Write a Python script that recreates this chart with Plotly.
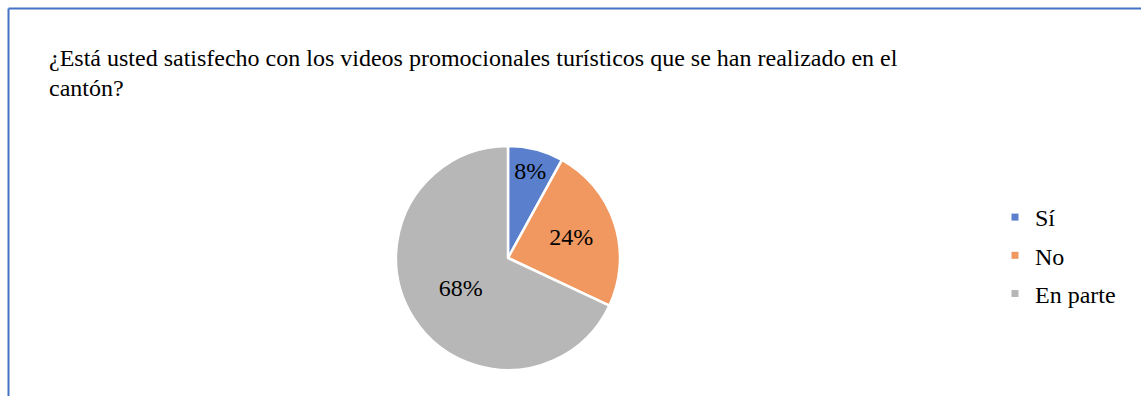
import plotly.graph_objects as go

W, H = 1141, 396

labels = ["Sí", "No", "En parte"]
values = [8, 24, 68]
colors = ["#5a80cd", "#f09860", "#b7b7b7"]
title_lines = [
    "¿Está usted satisfecho con los videos promocionales turísticos que se han realizado en el",
    "cantón?",
]

FONT = "'Times New Roman', 'Liberation Serif', serif"

fig = go.Figure()

fig.add_trace(go.Pie(
    labels=labels,
    values=values,
    sort=False,
    direction="clockwise",
    rotation=0,
    marker=dict(colors=colors, line=dict(color="white", width=2.5)),
    texttemplate="%{percent:.0%}",
    textposition="inside",
    insidetextorientation="horizontal",
    textfont=dict(family=FONT, size=24, color="#000000"),
    domain=dict(x=[396 / W, 620 / W], y=[1 - 370 / H, 1 - 146 / H]),
    showlegend=False,
    hoverinfo="label+percent",
))

# legend entries (dummy traces so spacing can be controlled)
for i, (lab, col) in enumerate(zip(labels, colors)):
    fig.add_trace(go.Scatter(
        x=[None], y=[None], mode="markers", name=lab,
        marker=dict(symbol="square", size=7, color=col),
        legendgroup=f"g{i}", showlegend=True,
    ))

for i, line in enumerate(title_lines):
    fig.add_annotation(
        text=line, xref="paper", yref="paper",
        x=47 / W, y=1 - (58 + 30 * i) / H,
        xanchor="left", yanchor="middle", showarrow=False,
        font=dict(family=FONT, size=24, color="#000000"),
    )

# chart area border (top and left visible)
fig.add_shape(type="line", xref="paper", yref="paper",
              x0=8.5 / W, y0=0, x1=8.5 / W, y1=1 - 8.5 / H,
              line=dict(color="#4472c4", width=2))
fig.add_shape(type="line", xref="paper", yref="paper",
              x0=8.5 / W, y0=1 - 8.5 / H, x1=1, y1=1 - 8.5 / H,
              line=dict(color="#4472c4", width=2))

fig.update_layout(
    width=W, height=H,
    margin=dict(l=0, r=0, t=0, b=0),
    paper_bgcolor="white", plot_bgcolor="white",
    font=dict(family=FONT),
    xaxis=dict(visible=False), yaxis=dict(visible=False),
    legend=dict(
        x=995 / W, y=1 - 195 / H, xanchor="left", yanchor="top",
        font=dict(family=FONT, size=24, color="#000000"),
        tracegroupgap=4, itemwidth=30,
        bgcolor="rgba(0,0,0,0)",
    ),
)

fig.write_html("out.html")
